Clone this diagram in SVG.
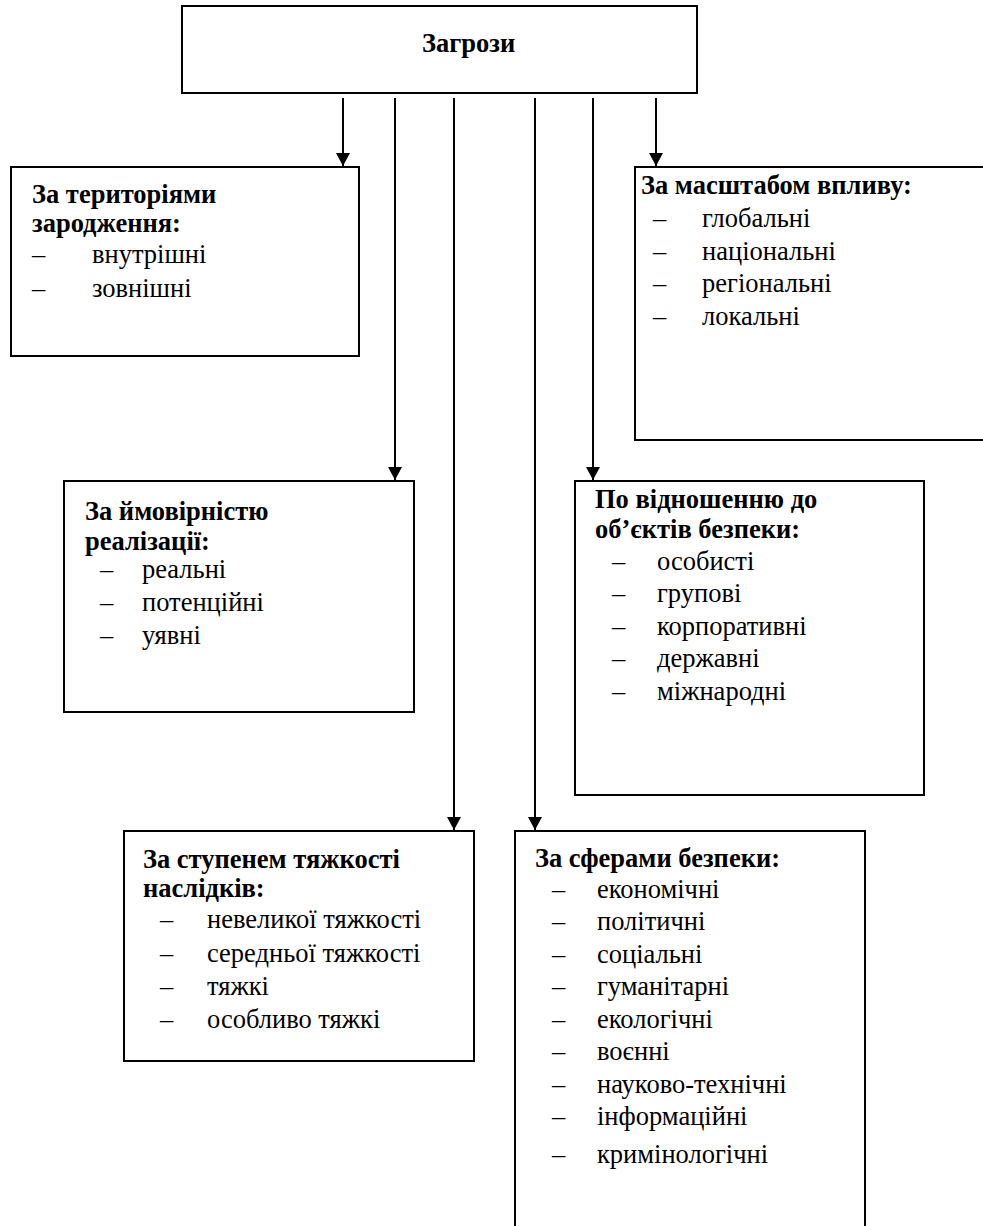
<svg xmlns="http://www.w3.org/2000/svg" width="983" height="1226" viewBox="0 0 983 1226">
<style>
.box{fill:#fff;stroke:#000;stroke-width:2}
.t{font-family:"Liberation Serif","Times New Roman",serif;font-size:26.5px;fill:#000}
.b{font-weight:bold}
.c{stroke:#000;stroke-width:2;fill:none}
</style>
<defs>
<marker id="arr" markerWidth="15" markerHeight="14" refX="14" refY="7.5" orient="auto" markerUnits="userSpaceOnUse" viewBox="0 0 14 15">
<path d="M0,0 L14,7.5 L0,15 Z" fill="#000"/>
</marker>
</defs>

<g id="root">
<rect class="box" x="182" y="6" width="515" height="87"/>
<text class="t b" x="422" y="52">Загрози</text>
</g>

<g id="connectors">
<line class="c" x1="343" y1="98" x2="343" y2="166" marker-end="url(#arr)"/>
<line class="c" x1="395" y1="98" x2="395" y2="480" marker-end="url(#arr)"/>
<line class="c" x1="454" y1="98" x2="454" y2="830" marker-end="url(#arr)"/>
<line class="c" x1="535" y1="98" x2="535" y2="830" marker-end="url(#arr)"/>
<line class="c" x1="593" y1="98" x2="593" y2="480" marker-end="url(#arr)"/>
<line class="c" x1="656" y1="98" x2="656" y2="166" marker-end="url(#arr)"/>
</g>

<g id="territory">
<rect class="box" x="11" y="167" width="348" height="189"/>
<text class="t b" x="32" y="203">За територіями</text>
<text class="t b" x="32" y="232">зародження:</text>
<text class="t" x="32" y="263">–</text><text class="t" x="92" y="263">внутрішні</text>
<text class="t" x="32" y="297">–</text><text class="t" x="92" y="297">зовнішні</text>
</g>

<g id="scale">
<rect class="box" x="635" y="167" width="360" height="273"/>
<text class="t b" x="641" y="194">За масштабом впливу:</text>
<text class="t" x="653" y="227">–</text><text class="t" x="702" y="227">глобальні</text>
<text class="t" x="653" y="260">–</text><text class="t" x="702" y="260">національні</text>
<text class="t" x="653" y="292">–</text><text class="t" x="702" y="292">регіональні</text>
<text class="t" x="653" y="325">–</text><text class="t" x="702" y="325">локальні</text>
</g>

<g id="probability">
<rect class="box" x="64" y="481" width="350" height="231"/>
<text class="t b" x="85" y="520">За ймовірністю</text>
<text class="t b" x="85" y="550">реалізації:</text>
<text class="t" x="100" y="578">–</text><text class="t" x="142" y="578">реальні</text>
<text class="t" x="100" y="611">–</text><text class="t" x="142" y="611">потенційні</text>
<text class="t" x="100" y="644">–</text><text class="t" x="142" y="644">уявні</text>
</g>

<g id="objects">
<rect class="box" x="575" y="481" width="349" height="314"/>
<text class="t b" x="595" y="508">По відношенню до</text>
<text class="t b" x="595" y="538">об’єктів безпеки:</text>
<text class="t" x="612" y="570">–</text><text class="t" x="657" y="570">особисті</text>
<text class="t" x="612" y="602">–</text><text class="t" x="657" y="602">групові</text>
<text class="t" x="612" y="635">–</text><text class="t" x="657" y="635">корпоративні</text>
<text class="t" x="612" y="667">–</text><text class="t" x="657" y="667">державні</text>
<text class="t" x="612" y="700">–</text><text class="t" x="657" y="700">міжнародні</text>
</g>

<g id="severity">
<rect class="box" x="124" y="831" width="350" height="230"/>
<text class="t b" x="143" y="868">За ступенем тяжкості</text>
<text class="t b" x="143" y="897">наслідків:</text>
<text class="t" x="160" y="928">–</text><text class="t" x="207" y="928">невеликої тяжкості</text>
<text class="t" x="160" y="962">–</text><text class="t" x="207" y="962">середньої тяжкості</text>
<text class="t" x="160" y="995">–</text><text class="t" x="207" y="995">тяжкі</text>
<text class="t" x="160" y="1028">–</text><text class="t" x="207" y="1028">особливо тяжкі</text>
</g>

<g id="spheres">
<rect class="box" x="515" y="831" width="350" height="420"/>
<text class="t b" x="535" y="867">За сферами безпеки:</text>
<text class="t" x="552" y="898">–</text><text class="t" x="597" y="898">економічні</text>
<text class="t" x="552" y="930">–</text><text class="t" x="597" y="930">політичні</text>
<text class="t" x="552" y="963">–</text><text class="t" x="597" y="963">соціальні</text>
<text class="t" x="552" y="995">–</text><text class="t" x="597" y="995">гуманітарні</text>
<text class="t" x="552" y="1028">–</text><text class="t" x="597" y="1028">екологічні</text>
<text class="t" x="552" y="1060">–</text><text class="t" x="597" y="1060">воєнні</text>
<text class="t" x="552" y="1093">–</text><text class="t" x="597" y="1093">науково-технічні</text>
<text class="t" x="552" y="1125">–</text><text class="t" x="597" y="1125">інформаційні</text>
<text class="t" x="552" y="1163">–</text><text class="t" x="597" y="1163">кримінологічні</text>
</g>
</svg>
